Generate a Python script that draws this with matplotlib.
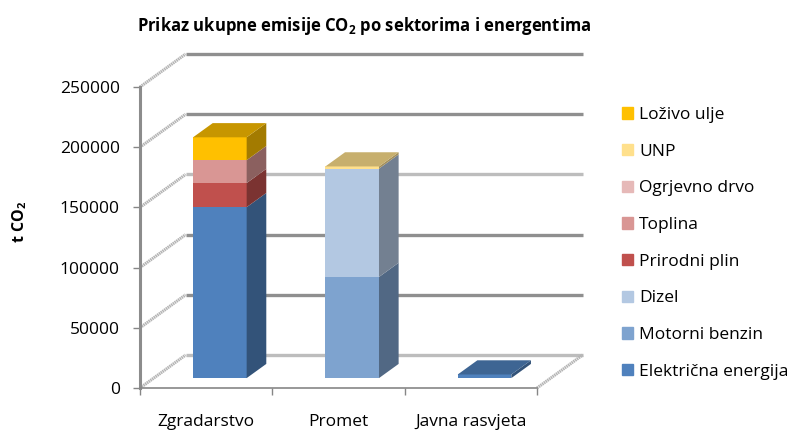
import matplotlib
matplotlib.use('Agg')
import matplotlib.pyplot as plt
from matplotlib.patches import Patch

plt.rcParams['font.family'] = ['Open Sans', 'DejaVu Sans']
plt.rcParams['mathtext.fontset'] = 'custom'
plt.rcParams['mathtext.bf'] = 'Open Sans:bold'
plt.rcParams['mathtext.rm'] = 'Open Sans'

# data
categories = ['Zgradarstvo', 'Promet', 'Javna rasvjeta']
elektricna = [142000, 0, 3000]
benzin = [0, 84000, 0]
dizel = [0, 90000, 0]
plin = [20000, 0, 0]
toplina = [19000, 0, 0]
drvo = [0, 0, 0]
unp = [0, 1800, 0]
lozivo = [19000, 0, 0]
yticks = [0, 50000, 100000, 150000, 200000, 250000]

series = [elektricna, benzin, dizel, plin, toplina, drvo, unp, lozivo]
names = ['Električna energija', 'Motorni benzin', 'Dizel', 'Prirodni plin',
         'Toplina', 'Ogrjevno drvo', 'UNP', 'Loživo ulje']
colors = ['#4F81BD', '#7EA3CF', '#B3C8E2', '#C0504D',
          '#D99694', '#E6B9B8', '#FFE08C', '#FFC000']

# fake 3d: how far the back wall is shifted from the front plane
DX = 0.345
DY = 27400
d_front = 0.30   # bar front, fraction of depth
d_back = 0.73    # bar back
width = 0.405


def shade(col, f):
    rgb = matplotlib.colors.to_rgb(col)
    return tuple(c * f for c in rgb)


fig = plt.figure(figsize=(7.92, 4.30), dpi=100)
ax = fig.add_axes([140 / 792, 1 - 388 / 430, 397 / 792, 301 / 430])
ax.set_xlim(0, 3)
ax.set_ylim(0, 250000)

# back wall + side wall lines
for v in yticks:
    c = '#BDBDBD' if v in (0, 150000) else '#8F8F8F'
    ax.plot([DX, 3 + DX], [v + DY, v + DY], color=c, lw=2.4, clip_on=False,
            solid_capstyle='butt', zorder=1)
    ax.plot([0, DX], [v, v + DY], color='#B4B4B4', lw=2.2, ls=(0, (0.5, 0.2)),
            clip_on=False, zorder=1)
ax.plot([3, 3 + DX], [0, DY], color='#B4B4B4', lw=2.2, ls=(0, (0.5, 0.2)),
        clip_on=False, zorder=1)

# bars, bottom segment first
for i in range(len(categories)):
    left = i + 0.5 - width / 2 + d_front * DX
    right = left + width
    sx = (d_back - d_front) * DX
    sy = (d_back - d_front) * DY
    base = d_front * DY
    top_col = None
    for vals, col in zip(series, colors):
        v = vals[i]
        if v == 0:
            continue
        ax.bar(i + 0.5 + d_front * DX, v, width=width, bottom=base, color=col,
               zorder=3, clip_on=False)
        ax.fill([right, right + sx, right + sx, right],
                [base, base + sy, base + v + sy, base + v],
                color=shade(col, 0.64), lw=0, zorder=3, clip_on=False)
        base += v
        top_col = col
    ax.fill([left, right, right + sx, left + sx],
            [base, base, base + sy, base + sy],
            color=shade(top_col, 0.78), lw=0, zorder=4, clip_on=False)

# axes
for s in ('top', 'right'):
    ax.spines[s].set_visible(False)
ax.spines['left'].set_color('#8C8C8C')
ax.spines['left'].set_linewidth(2.2)
ax.spines['bottom'].set_color('#868686')
ax.spines['bottom'].set_linewidth(1.2)
ax.patch.set_alpha(0)
ax.set_yticks(yticks)
ax.set_yticklabels([str(v) for v in yticks])
ax.tick_params(axis='y', labelsize=12.5, length=5, width=1, color='#868686', pad=9.5)
ax.set_xticks([0, 1, 2, 3])
ax.set_xticklabels([])
ax.tick_params(axis='x', which='major', length=5, width=1, color='#868686')
ax.set_xticks([0.5, 1.5, 2.5], minor=True)
ax.set_xticklabels(categories, minor=True, fontsize=12.5)
ax.tick_params(axis='x', which='minor', length=0, pad=18.5)

fig.text(364.5 / 792, 1 - 26 / 430, r'Prikaz ukupne emisije CO$_\mathbf{2}$ po sektorima i energentima',
         ha='center', va='center', fontsize=12, fontweight='bold')
fig.text(20 / 792, 1 - 222 / 430, r't CO$_\mathbf{2}$', rotation=90,
         ha='center', va='center', fontsize=11.5, fontweight='bold')

# legend, top entry is the last series
handles = [Patch(color=c, label=n) for c, n in zip(colors[::-1], names[::-1])]
fig.legend(handles=handles, loc='upper left', bbox_to_anchor=(622 / 792, 1 - 107 / 430),
           frameon=False, fontsize=12.5, handlelength=0.63, handleheight=0.63,
           handletextpad=0.35, labelspacing=1.19, borderpad=0, borderaxespad=0)

fig.savefig('out.png', dpi=100)
